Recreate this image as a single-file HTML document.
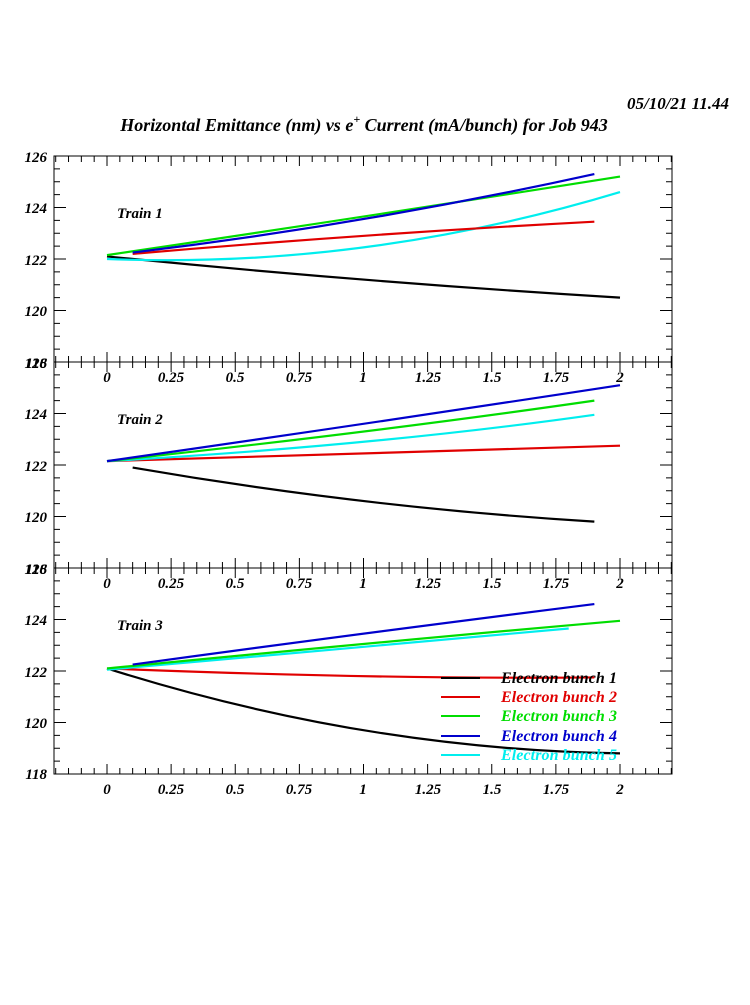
<!DOCTYPE html>
<html><head><meta charset="utf-8"><style>
html,body{margin:0;padding:0;background:#fff;}
svg text{font-family:"Liberation Serif",serif;font-weight:bold;font-style:italic;}
</style></head><body>
<svg id="s" width="750" height="1000" xmlns="http://www.w3.org/2000/svg">
<rect width="750" height="1000" fill="#fff"/>
<text x="729" y="109" font-size="17" text-anchor="end">05/10/21   11.44</text>
<text x="364" y="131" font-size="18" text-anchor="middle">Horizontal Emittance (nm) vs e<tspan dy="-8" font-size="12">+</tspan><tspan dy="8"> Current (mA/bunch) for Job 943</tspan></text>
<g font-size="15" text-anchor="end">
<text x="47" y="162">126</text><text x="47" y="213">124</text><text x="47" y="265">122</text><text x="47" y="316">120</text><text x="47" y="368">118</text><text x="47" y="368">126</text>
<text x="47" y="419">124</text><text x="47" y="471">122</text><text x="47" y="522">120</text><text x="47" y="574">118</text><text x="47" y="574">126</text>
<text x="47" y="625">124</text><text x="47" y="677">122</text><text x="47" y="728">120</text><text x="47" y="779">118</text>
</g>
<g font-size="15" text-anchor="middle">
<g transform="translate(0,382)"><text x="107">0</text><text x="171">0.25</text><text x="235">0.5</text><text x="299">0.75</text><text x="363">1</text><text x="428">1.25</text><text x="492">1.5</text><text x="556">1.75</text><text x="620">2</text></g>
<g transform="translate(0,588)"><text x="107">0</text><text x="171">0.25</text><text x="235">0.5</text><text x="299">0.75</text><text x="363">1</text><text x="428">1.25</text><text x="492">1.5</text><text x="556">1.75</text><text x="620">2</text></g>
<g transform="translate(0,794)"><text x="107">0</text><text x="171">0.25</text><text x="235">0.5</text><text x="299">0.75</text><text x="363">1</text><text x="428">1.25</text><text x="492">1.5</text><text x="556">1.75</text><text x="620">2</text></g>
</g>
<g font-size="15">
<text x="117" y="218">Train 1</text>
<text x="117" y="424">Train 2</text>
<text x="117" y="630">Train 3</text>
</g>
<g id="g"></g>
<g font-size="16">
<line x1="441" y1="678" x2="480" y2="678" stroke="#000" stroke-width="2"/>
<line x1="441" y1="697" x2="480" y2="697" stroke="#e00000" stroke-width="2"/>
<line x1="441" y1="716" x2="480" y2="716" stroke="#00dd00" stroke-width="2"/>
<line x1="441" y1="736" x2="480" y2="736" stroke="#0000cc" stroke-width="2"/>
<line x1="441" y1="755" x2="480" y2="755" stroke="#00eeee" stroke-width="2"/>
<text x="501" y="683" fill="#000" textLength="116">Electron bunch 1</text>
<text x="501" y="702" fill="#e00000" textLength="116">Electron bunch 2</text>
<text x="501" y="721" fill="#00dd00" textLength="116">Electron bunch 3</text>
<text x="501" y="741" fill="#0000cc" textLength="116">Electron bunch 4</text>
<text x="501" y="760" fill="#00eeee" textLength="116">Electron bunch 5</text>
</g>
</svg>
<script>
var g=document.getElementById('g'),h='';
var L=54,R=672,tops=[156,362,568],H=206;
function X(v){return 107+v*256.5;}
tops.forEach(function(t){
 var b=t+H;
 h+='<rect x="'+L+'" y="'+t+'" width="'+(R-L)+'" height="'+H+'" fill="none" stroke="#000" stroke-width="1"/>';
 for(var i=-4;i<=44;i++){var v=i*0.05;var x=X(v);if(x<=L||x>=R)continue;var len=(i%5==0)?10:6;
  h+='<line x1="'+x+'" y1="'+t+'" x2="'+x+'" y2="'+(t+len)+'" stroke="#000"/>';
  h+='<line x1="'+x+'" y1="'+b+'" x2="'+x+'" y2="'+(b-len)+'" stroke="#000"/>';}
 for(var j=1;j<16;j++){var y=t+j*H/16;var len=(j%4==0)?12:6;
  h+='<line x1="'+L+'" y1="'+y+'" x2="'+(L+len)+'" y2="'+y+'" stroke="#000"/>';
  h+='<line x1="'+R+'" y1="'+y+'" x2="'+(R-len)+'" y2="'+y+'" stroke="#000"/>';}
});
var C=['#000','#e00000','#00dd00','#0000cc','#00eeee'];
function Y(p,v){return tops[p]+(126-v)*25.75;}
function crv(p,c,x0,y0,xm,ym,x1,y1){
 var ax=X(x0),ay=Y(p,y0),mx=X(xm),my=Y(p,ym),bx=X(x1),by=Y(p,y1);
 var cx=2*mx-(ax+bx)/2,cy=2*my-(ay+by)/2;
 h+='<path d="M'+ax+' '+ay+'Q'+cx+' '+cy+' '+bx+' '+by+'" fill="none" stroke="'+C[c]+'" stroke-width="2.2"/>';
}
crv(0,0,0,122.1,1,121.2,2,120.5);
crv(0,4,0,122.0,1,122.45,2,124.6);
crv(0,1,0.1,122.2,1,122.9,1.9,123.45);
crv(0,2,0,122.15,1,123.65,2,125.2);
crv(0,3,0.1,122.25,1,123.55,1.9,125.3);
crv(1,0,0.1,121.9,1,120.6,1.9,119.8);
crv(1,1,0,122.15,1,122.45,2,122.75);
crv(1,4,0,122.15,1,122.9,1.9,123.95);
crv(1,2,0,122.15,1,123.3,1.9,124.5);
crv(1,3,0,122.15,1,123.6,2,125.1);
crv(2,0,0,122.1,1,119.7,2,118.8);
crv(2,1,0,122.1,1,121.8,1.9,121.75);
crv(2,4,0,122.05,0.9,122.85,1.8,123.65);
crv(2,2,0,122.1,1,123.05,2,123.95);
crv(2,3,0.1,122.25,1,123.45,1.9,124.6);
g.innerHTML=h;
</script>
</body></html>
